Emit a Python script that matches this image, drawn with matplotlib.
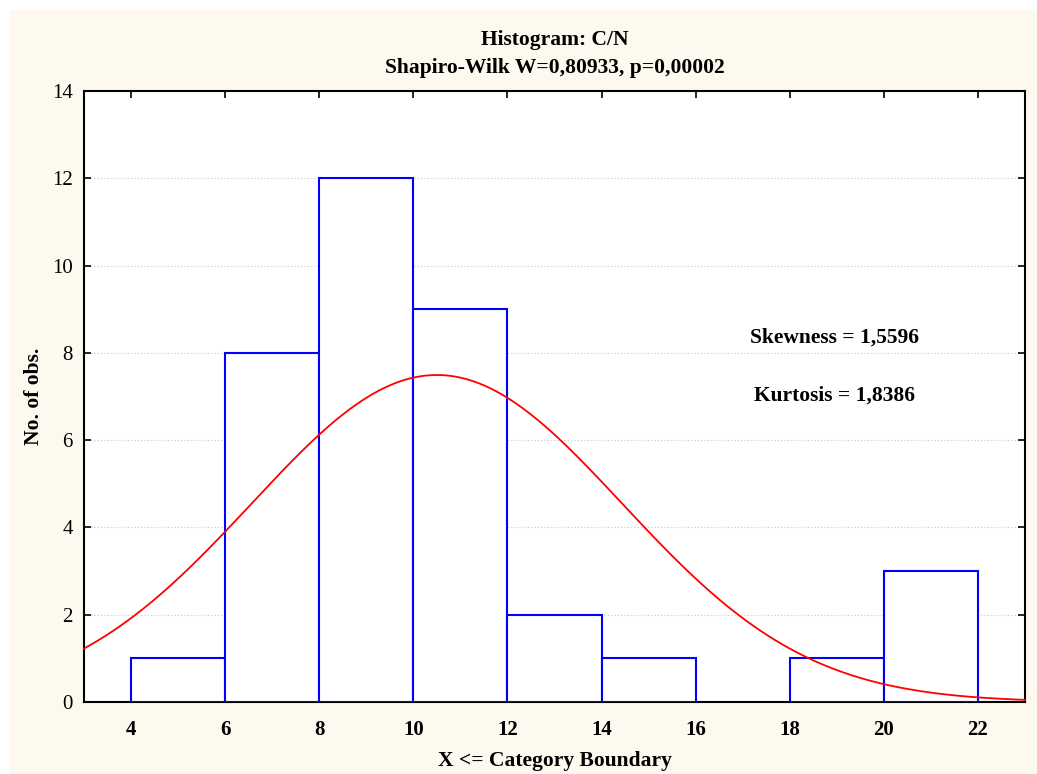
import numpy as np
import matplotlib.pyplot as plt
from matplotlib.patches import Rectangle

# histogram data
bin_edges = [4, 6, 8, 10, 12, 14, 16, 18, 20, 22]
counts = [1, 8, 12, 9, 2, 1, 0, 1, 3]
xticks = [4, 6, 8, 10, 12, 14, 16, 18, 20, 22]
yticks = [0, 2, 4, 6, 8, 10, 12, 14]

# fitted normal curve parameters
mu = 10.5
sigma = 3.94
n_obs = sum(counts)
bin_w = 2

plt.rcParams['font.family'] = ['Liberation Serif', 'DejaVu Serif']

fig = plt.figure(figsize=(10.37, 7.74), dpi=100)
fig.patch.set_facecolor('white')
fig.patches.append(Rectangle((9 / 1037, 0), 1, 1 - 10 / 774, transform=fig.transFigure,
                             facecolor='#fdf9ee', edgecolor='none', zorder=-10))

ax = fig.add_axes([84 / 1037, 1 - 702 / 774, (1025 - 84) / 1037, (702 - 91) / 774])
ax.set_facecolor('white')

# bars
for i, c in enumerate(counts):
    if c > 0:
        ax.add_patch(Rectangle((bin_edges[i], 0), bin_edges[i + 1] - bin_edges[i], c,
                               facecolor='white', edgecolor='#0000ff', lw=1.5, zorder=3))

# normal curve
xs = np.linspace(3, 23, 400)
ys = n_obs * bin_w / (sigma * np.sqrt(2 * np.pi)) * np.exp(-0.5 * ((xs - mu) / sigma) ** 2)
ax.plot(xs, ys, color='#ff0000', lw=1.3, zorder=4, clip_on=False)

ax.set_xlim(3, 23)
ax.set_ylim(0, 14)
ax.set_xticks(xticks)
ax.set_yticks(yticks)
ax.set_xticklabels([str(v) for v in xticks], fontweight='bold', fontsize=15)
ax.set_yticklabels([str(v) for v in yticks], fontsize=15)
ax.tick_params(direction='in', length=5, width=1.2, top=True, right=True, pad=8)
ax.tick_params(axis='x', pad=13)

for y in yticks[1:-1]:
    ax.axhline(y, color='#c8c8c8', lw=0.8, ls=(0, (1, 2)), zorder=1)

for s in ax.spines.values():
    s.set_linewidth(1.5)

ax.set_xlabel('X <= Category Boundary', fontweight='bold', fontsize=15.5, labelpad=8)
ax.set_ylabel('No. of obs.', fontweight='bold', fontsize=15.5, labelpad=6)
ax.set_title('Histogram: C/N\nShapiro-Wilk W=0,80933, p=0,00002', fontweight='bold',
             fontsize=15.5, pad=13, linespacing=1.5)

ax.text(18.96, 8.34, 'Skewness = 1,5596', ha='center', va='center', fontweight='bold', fontsize=15.5)
ax.text(18.96, 7.03, 'Kurtosis = 1,8386', ha='center', va='center', fontweight='bold', fontsize=15.5)

fig.savefig('out.png', dpi=100)
